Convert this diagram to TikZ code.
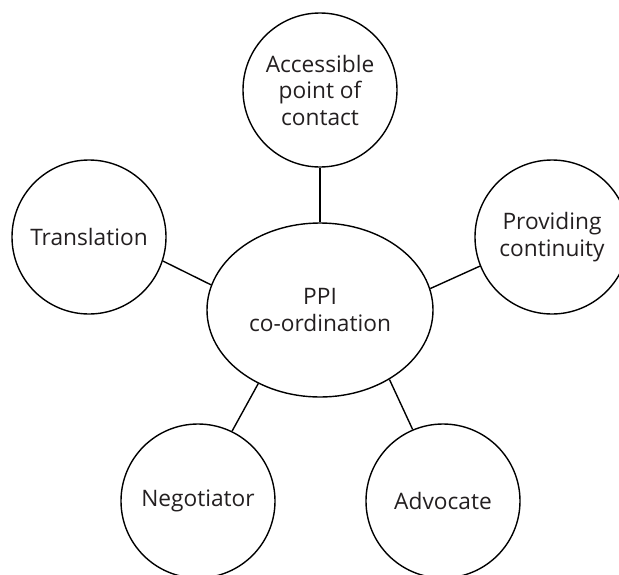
\documentclass[tikz,border=0pt]{standalone}
\usepackage{fontspec}
\setmainfont{Open Sans}
\usepackage{tikz}
\usetikzlibrary{shapes.geometric}
\definecolor{textgray}{HTML}{231F20}

\begin{document}
\begin{tikzpicture}[
  x=1pt, y=-1pt,
  every node/.style={font=\fontsize{22.7}{26.5}\selectfont, text=textgray, align=center},
  role/.style={draw, circle, line width=1.4pt, minimum size=154pt, inner sep=0pt},
  hub/.style={draw, ellipse, line width=1.4pt, minimum width=226pt, minimum height=174pt, inner sep=0pt},
  link/.style={draw, line width=1.4pt}
]
\useasboundingbox (0,0) rectangle (619,574);

\node[hub] (ppi) at (320,310) {PPI\\co-ordination};

\node[role] (access) at (320,90) {Accessible\\point of\\contact};
\node[role] (trans) at (89,237) {Translation};
\node[role] (cont) at (552,237) {Providing\\continuity};
\node[role] (nego) at (198,501) {Negotiator};
\node[role] (advo) at (443,501) {Advocate};

\draw[link] (access.south) -- (ppi.north);
\draw[link] (trans.-18.7) -- (ppi.167.8);
\draw[link] (ppi.11.8) -- (cont.-158.7);
\draw[link] (ppi.-130.4) -- (nego.64.4);
\draw[link] (ppi.-45.4) -- (advo.113);

\end{tikzpicture}
\end{document}
